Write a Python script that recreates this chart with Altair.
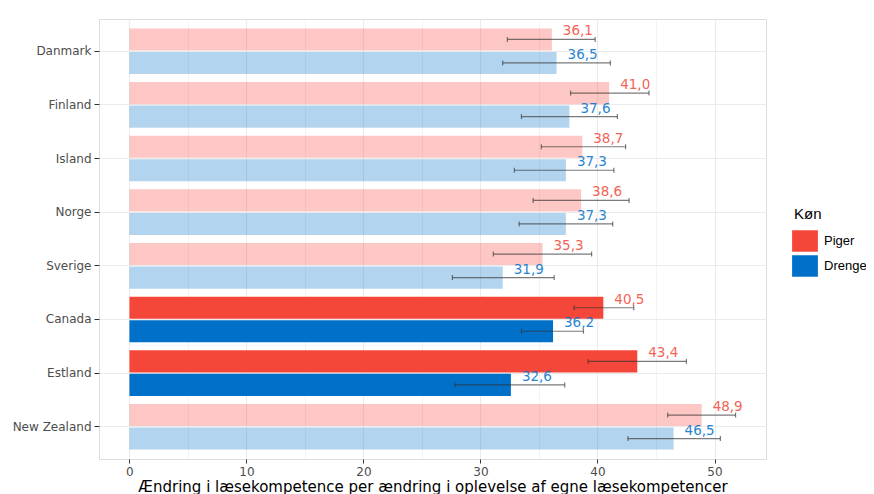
import altair as alt
import pandas as pd

countries = ["Danmark", "Finland", "Island", "Norge", "Sverige", "Canada", "Estland", "New Zealand"]
piger = [36.1, 41.0, 38.7, 38.6, 35.3, 40.5, 43.4, 48.9]
drenge = [36.5, 37.6, 37.3, 37.3, 31.9, 36.2, 32.6, 46.5]
piger_lo = [32.3, 37.7, 35.2, 34.5, 31.1, 38.0, 39.2, 46.0]
piger_hi = [39.8, 44.4, 42.4, 42.7, 39.5, 43.1, 47.6, 51.8]
drenge_lo = [31.9, 33.5, 32.9, 33.3, 27.6, 33.5, 27.8, 42.6]
drenge_hi = [41.1, 41.7, 41.4, 41.3, 36.3, 38.8, 37.2, 50.5]
signifikant = ["nej", "nej", "nej", "nej", "nej", "ja", "ja", "nej"]
genders = ["Piger", "Drenge"]
x_ticks = [0, 5, 10, 15, 20, 25, 30, 35, 40, 45, 50]

rows = []
for i, c in enumerate(countries):
    rows.append(dict(country=c, gender="Piger", value=piger[i], lo=piger_lo[i], hi=piger_hi[i], sig=signifikant[i]))
    rows.append(dict(country=c, gender="Drenge", value=drenge[i], lo=drenge_lo[i], hi=drenge_hi[i], sig=signifikant[i]))
df = pd.DataFrame(rows)

FONT = "DejaVu Sans"
LFONT = "Liberation Sans"

y_enc = alt.Y(
    "country:N",
    sort=countries,
    scale=alt.Scale(paddingInner=0.15, paddingOuter=0.175),
    axis=alt.Axis(
        title=None, domain=False, tickSize=5, tickColor="#333333", labelPadding=3,
        labelFontSize=12, labelColor="#4D4D4D", labelFont=FONT,
        grid=True, gridColor="#EBEBEB",
    ),
)
yoff = alt.YOffset("gender:N", sort=genders, scale=alt.Scale(paddingInner=0.06))
x_scale = alt.Scale(domain=[-2.6, 54.4], nice=False, zero=False)

color_enc = alt.Color(
    "gender:N",
    sort=genders,
    scale=alt.Scale(domain=genders, range=["#F4473A", "#0070C9"]),
    legend=alt.Legend(
        title="Køn", orient="none", legendX=695, legendY=188,
        symbolType="M-1.2,-1L1.2,-1L1.2,1L-1.2,1Z", symbolSize=462,
        symbolStrokeWidth=0, symbolOpacity=1,
        titleFontSize=15, titleFontWeight="normal", titleFont=LFONT, titleColor="#000000",
        labelFontSize=13, labelFont=LFONT, labelColor="#000000", rowPadding=3,
        titlePadding=8, labelOffset=8, labelLimit=200,
    ),
)

base = alt.Chart(df)

bars = base.mark_bar().encode(
    x=alt.X(
        "value:Q", scale=x_scale,
        axis=alt.Axis(
            values=x_ticks,
            title="Ændring i læsekompetence per ændring i oplevelse af egne læsekompetencer",
            titleFontSize=15, titleFontWeight="normal", titleFont=FONT, titleColor="#000000",
            titlePadding=2,
            labelExpr="datum.value % 10 === 0 ? datum.label : ''",
            labelFontSize=12, labelColor="#4D4D4D", labelFont=FONT, labelPadding=3,
            domain=False, tickSize=4, tickColor="#333333",
            tickOpacity={"condition": {"test": "datum.value % 10 !== 0", "value": 0}, "value": 1},
            grid=True, gridColor="#EBEBEB",
            gridWidth={"condition": {"test": "datum.value % 10 !== 0", "value": 0.6}, "value": 1.1},
        ),
    ),
    y=y_enc,
    yOffset=yoff,
    color=color_enc,
    opacity=alt.Opacity("sig:N", scale=alt.Scale(domain=["ja", "nej"], range=[1.0, 0.3]), legend=None),
)

err = base.mark_rule(color="#333333", opacity=0.65, strokeWidth=1.2).encode(
    x=alt.X("lo:Q", scale=x_scale), x2="hi:Q", y=y_enc, yOffset=yoff,
)
cap_lo = base.mark_tick(color="#333333", opacity=0.65, size=5, thickness=1.2).encode(
    x=alt.X("lo:Q", scale=x_scale), y=y_enc, yOffset=yoff,
)
cap_hi = base.mark_tick(color="#333333", opacity=0.65, size=5, thickness=1.2).encode(
    x=alt.X("hi:Q", scale=x_scale), y=y_enc, yOffset=yoff,
)

labels = base.transform_calculate(
    label="replace(format(datum.value, '.1f'), '.', ',')"
).mark_text(align="left", baseline="alphabetic", dx=11, dy=-4, fontSize=13.5, font=FONT, opacity=0.85).encode(
    x=alt.X("value:Q", scale=x_scale),
    y=y_enc,
    yOffset=yoff,
    text="label:N",
    color=color_enc,
)

chart = alt.layer(bars, err, cap_lo, cap_hi, labels).properties(
    width=667, height=440,
    autosize=alt.AutoSizeParams(type="none"),
    padding={"left": 91, "top": 11, "right": 100, "bottom": 40},
).configure_view(stroke="#999999", strokeWidth=1.2).configure(background="white")

chart.save("out.html", embed_options={"renderer": "svg", "actions": False})
